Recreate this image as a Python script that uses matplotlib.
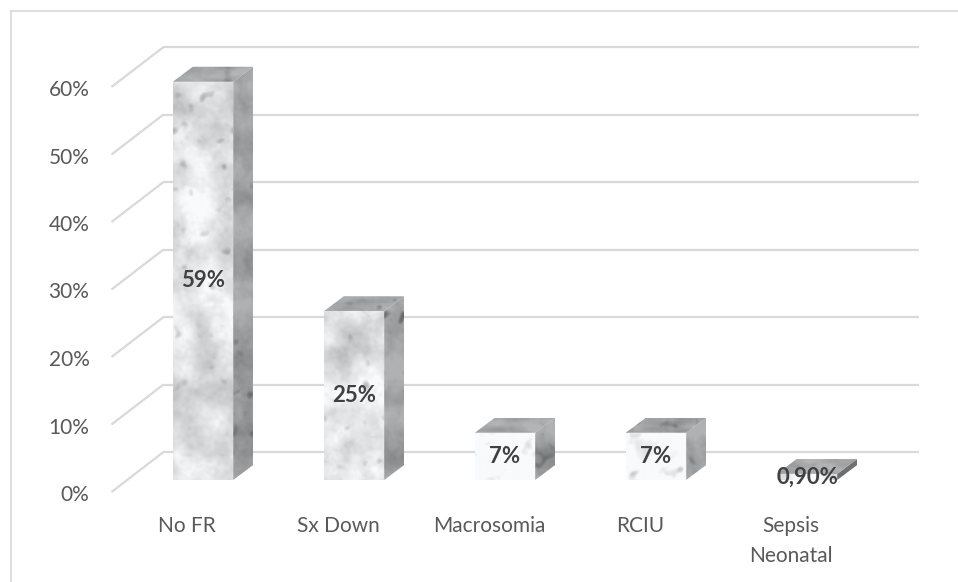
import numpy as np
import matplotlib
matplotlib.use("Agg")
import matplotlib.pyplot as plt
from matplotlib.patches import Polygon
from matplotlib.lines import Line2D

plt.rcParams['font.family'] = ['Lato', 'DejaVu Sans']

# ---- data ----
categories = ["No FR", "Sx Down", "Macrosomia", "RCIU", "Sepsis\nNeonatal"]
values = [59, 25, 7, 7, 0.9]          # percent
y_ticks = [0, 10, 20, 30, 40, 50, 60]

# ---- layout (pixels) ----
W, H, DPI = 958, 582, 100
X0_PX, SLOT_PX = 203, 151            # first category centre, category spacing
Y0_PX, UNIT_PX = 102, 6.75           # baseline from bottom, pixels per percent
BAR_W = 0.40
BAR_DX, BAR_DY = 20, 15              # bar depth offset
WALL_DX, WALL_DY = 36, 28            # back wall offset
FRONT_DX, FRONT_DY = -16, -12        # floor front edge offset
GRID = "#d9d9d9"
TXT = "#595959"
FS = 15

fig = plt.figure(figsize=(W / DPI, H / DPI), dpi=DPI)
ax = fig.add_axes([0, 0, 1, 1])
ax.set_xlim(-X0_PX / SLOT_PX, (W - X0_PX) / SLOT_PX)
ax.set_ylim(-Y0_PX / UNIT_PX, (H - Y0_PX) / UNIT_PX)
ax.axis("off")


def px(x, y, dx=0.0, dy=0.0):
    """Data point shifted by a pixel offset, returned in data units."""
    return x + dx / SLOT_PX, y + dy / UNIT_PX


# outer chart frame (top and left edges visible)
fx, fy = 11 / W, 1 - 11 / H
fig.add_artist(Line2D([fx, 1.0], [fy, fy], transform=fig.transFigure, color=GRID, lw=1.2))
fig.add_artist(Line2D([fx, fx], [0, fy], transform=fig.transFigure, color=GRID, lw=1.2))

# back wall gridlines and side-wall diagonals
n = len(categories)
xl, xr = -0.5, n - 0.5
for t in y_ticks:
    a = px(xl, t, WALL_DX, WALL_DY)
    b = px(xr, t, WALL_DX, WALL_DY)
    c = px(xl, t, FRONT_DX, FRONT_DY)
    ax.plot([a[0], b[0]], [a[1], b[1]], color=GRID, lw=1.6, zorder=1, solid_capstyle="butt")
    ax.plot([c[0], a[0]], [c[1], a[1]], color=GRID, lw=1.6, zorder=1, solid_capstyle="butt")
    lx, ly = px(xl, t, FRONT_DX - 22, FRONT_DY - 3)
    ax.text(lx, ly, f"{t}%", ha="right", va="center", fontsize=FS, color=TXT)

# marble texture helpers
rng = np.random.default_rng(11)


def smooth_noise(shape, sy, sx=None):
    sx = sy if sx is None else sx
    nz = rng.standard_normal(shape)
    fy_ = np.fft.fftfreq(shape[0])[:, None]
    fx_ = np.fft.fftfreq(shape[1])[None, :]
    g = np.exp(-2 * np.pi ** 2 * ((sx * fx_) ** 2 + (sy * fy_) ** 2))
    out = np.real(np.fft.ifft2(np.fft.fft2(nz) * g))
    return out / (out.std() + 1e-9)


def marble(h, w, base, spread, streak=1.0):
    h, w = max(int(h), 4), max(int(w), 4)
    t = (0.55 * smooth_noise((h, w), 14 * streak, 10)
         + 0.3 * smooth_noise((h, w), 5 * streak, 5)
         + 0.15 * smooth_noise((h, w), 1.5))
    spots = np.clip(smooth_noise((h, w), 3) - 1.5, 0, None)
    val = base - spread * np.clip(t, -1.2, 2.8) - 25 * spots
    val = np.clip(val, 0, 255)
    img = np.stack([val - 2, val, val + 2], axis=-1) / 255.0
    return np.clip(img, 0, 1)


def textured(poly_pts, img, zorder):
    poly = Polygon(poly_pts, closed=True, facecolor="none", edgecolor="none", zorder=zorder)
    ax.add_patch(poly)
    xs = [p[0] for p in poly_pts]
    ys = [p[1] for p in poly_pts]
    im = ax.imshow(img, extent=(min(xs), max(xs), min(ys), max(ys)), origin="lower",
                   aspect="auto", interpolation="bilinear", zorder=zorder)
    im.set_clip_path(poly)


for i, (cat, v) in enumerate(zip(categories, values)):
    x0, x1 = i - BAR_W / 2, i + BAR_W / 2
    hpx = v * UNIT_PX
    wpx = BAR_W * SLOT_PX
    front = [(x0, 0), (x1, 0), (x1, v), (x0, v)]
    side = [(x1, 0), px(x1, 0, BAR_DX, BAR_DY), px(x1, v, BAR_DX, BAR_DY), (x1, v)]
    top = [(x0, v), (x1, v), px(x1, v, BAR_DX, BAR_DY), px(x0, v, BAR_DX, BAR_DY)]
    textured(front, marble(hpx + 2, wpx, 226, 20), 3)
    textured(side, marble(hpx + BAR_DY + 2, BAR_DX + 2, 158, 16), 3)
    textured(top, marble(BAR_DY + 2, wpx + BAR_DX, 166, 12, streak=0.3), 3)

    label = f"{v:.2f}%".replace(".", ",") if v < 1 else f"{v:.0f}%"
    ax.text(i, v / 2, label, ha="center", va="center", fontsize=FS + 1,
            fontweight="bold", color="#404040", zorder=10)

    cx, cy = px(i, 0, FRONT_DX, FRONT_DY - 24)
    ax.text(cx, cy, cat, ha="center", va="top", fontsize=FS, color=TXT,
            linespacing=1.6, zorder=10)

fig.savefig("out.png", dpi=DPI)
